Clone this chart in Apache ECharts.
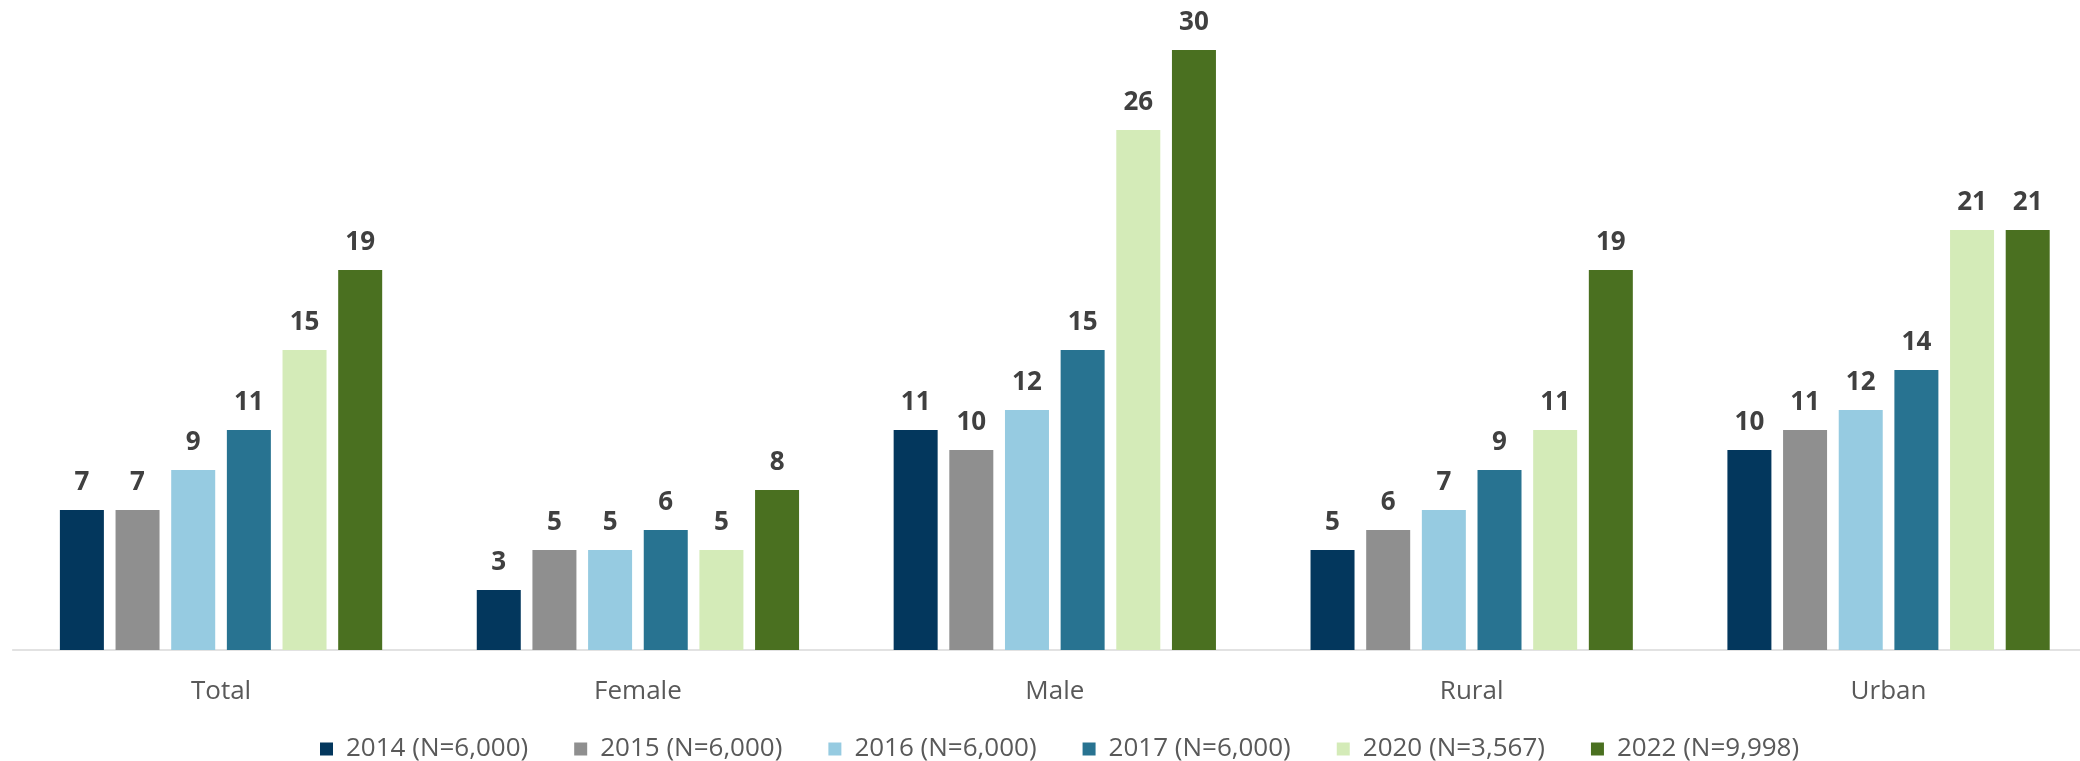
<!DOCTYPE html>
<html>
<head>
<meta charset="utf-8">
<script src="https://cdn.jsdelivr.net/npm/echarts@6/dist/echarts.min.js"></script>
<style>
  html, body { margin: 0; padding: 0; background: #ffffff; }
  #chart { width: 2080px; height: 761px; }
</style>
</head>
<body>
<div id="chart"></div>
<script>
// Groups shown along the horizontal axis
const categories = ['Total', 'Female', 'Male', 'Rural', 'Urban'];

// Survey rounds (legend entries)
const seriesNames = [
  '2014 (N=6,000)',
  '2015 (N=6,000)',
  '2016 (N=6,000)',
  '2017 (N=6,000)',
  '2020 (N=3,567)',
  '2022 (N=9,998)'
];

// Percentages per round, in category order
const values2014 = [7, 3, 11, 5, 10];
const values2015 = [7, 5, 10, 6, 11];
const values2016 = [9, 5, 12, 7, 12];
const values2017 = [11, 6, 15, 9, 14];
const values2020 = [15, 5, 26, 11, 21];
const values2022 = [19, 8, 30, 19, 21];

const seriesValues = [values2014, values2015, values2016, values2017, values2020, values2022];
const colors = ['#03375D', '#8F8F8F', '#96CBE1', '#287391', '#D4EBB8', '#4A7020'];

const FONT = '"Open Sans", "Segoe UI", sans-serif';

const chart = echarts.init(document.getElementById('chart'), null, { renderer: 'canvas' });

chart.setOption({
  animation: false,
  backgroundColor: '#ffffff',
  color: colors,
  // plot area runs slightly past the right edge of the canvas
  grid: {
    left: 12.6, width: 2084.4, top: 10, height: 640,
    containLabel: false,
    outerBoundsMode: 'none'
  },
  legend: {
    data: seriesNames,
    left: 315,
    top: 731,
    orient: 'horizontal',
    icon: 'rect',
    itemWidth: 13,
    itemHeight: 13,
    itemGap: 46,
    textStyle: {
      fontFamily: FONT,
      fontSize: 26,
      color: '#595959',
      padding: [0, 0, 0, 8]
    }
  },
  xAxis: {
    type: 'category',
    data: categories,
    axisTick: { show: false },
    axisLine: { show: true, lineStyle: { color: '#D9D9D9', width: 1.5 } },
    axisLabel: {
      margin: 29,
      fontFamily: FONT,
      fontSize: 26,
      color: '#595959'
    },
    splitLine: { show: false }
  },
  yAxis: {
    type: 'value',
    min: 0,
    max: 32,
    show: false,
    splitLine: { show: false }
  },
  series: seriesNames.map((name, i) => ({
    name: name,
    type: 'bar',
    data: seriesValues[i],
    barWidth: 44,
    barGap: '26.5%',
    itemStyle: { color: colors[i] },
    label: {
      show: true,
      position: 'top',
      distance: 14,
      fontFamily: FONT,
      fontSize: 26,
      fontWeight: 'bold',
      color: '#404040'
    }
  }))
});
</script>
</body>
</html>
